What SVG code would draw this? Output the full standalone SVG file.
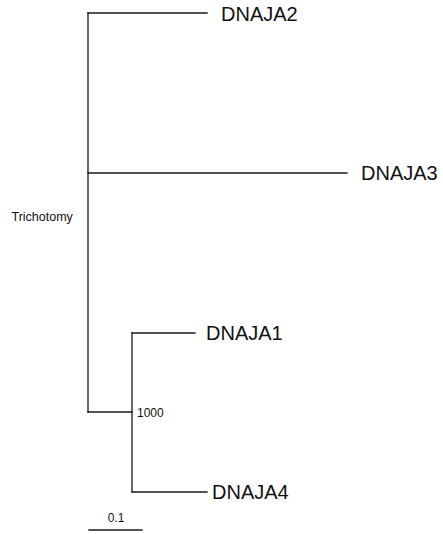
<svg xmlns="http://www.w3.org/2000/svg" width="443" height="534" viewBox="0 0 443 534">
  <style>
    .br { stroke: #1a1a1a; stroke-width: 1.3; fill: none; stroke-linecap: square; }
    .leaf { font-family: "Liberation Sans", Arial, sans-serif; font-size: 20px; fill: #111; }
    .small { font-family: "Liberation Sans", Arial, sans-serif; font-size: 12px; fill: #111; }
  </style>
  <rect width="443" height="534" fill="#ffffff"/>
  <g id="connectors">
    <!-- root stem -->
    <path class="br" d="M88 13 V412"/>
    <path class="br" d="M88 13 H207"/>
    <path class="br" d="M88 173 H347"/>
    <path class="br" d="M88 412 H132"/>
    <!-- inner clade -->
    <path class="br" d="M132 333 V492"/>
    <path class="br" d="M132 333 H195"/>
    <path class="br" d="M132 492 H207"/>
    <!-- scale bar -->
    <path class="br" d="M89 530 H142"/>
  </g>
  <g id="node-DNAJA2"><text class="leaf" x="221" y="21">DNAJA2</text></g>
  <g id="node-DNAJA3"><text class="leaf" x="361" y="180">DNAJA3</text></g>
  <g id="node-DNAJA1"><text class="leaf" x="206" y="340">DNAJA1</text></g>
  <g id="node-DNAJA4"><text class="leaf" x="212" y="499">DNAJA4</text></g>
  <g id="node-trichotomy"><text class="small" x="11.5" y="221" style="font-size:12.5px">Trichotomy</text></g>
  <g id="node-support"><text class="small" x="137" y="417">1000</text></g>
  <g id="scale"><text class="small" x="116" y="522" text-anchor="middle">0.1</text></g>
</svg>
